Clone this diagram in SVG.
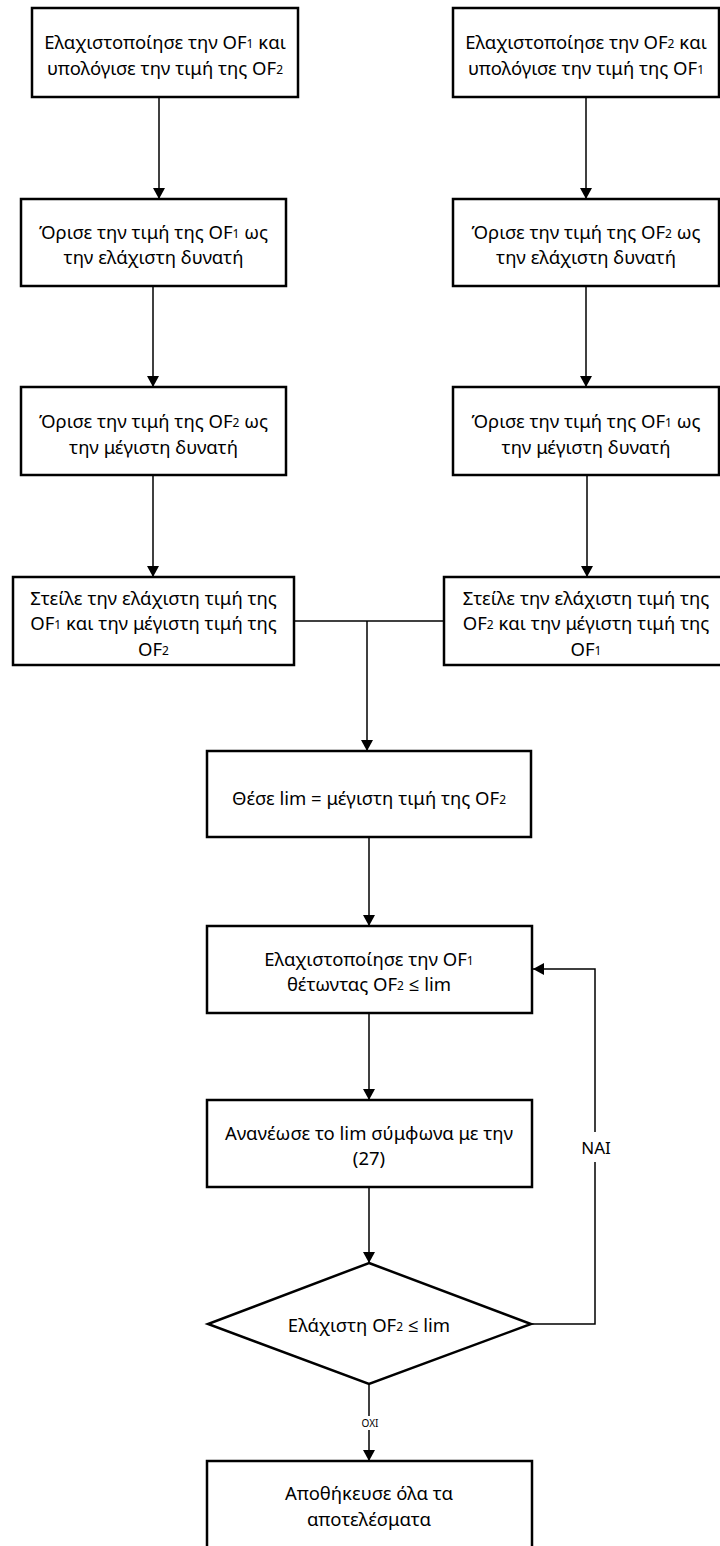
<svg xmlns="http://www.w3.org/2000/svg" width="720" height="1546" viewBox="0 0 720 1546">
<style>
.box{fill:#fff;stroke:#000;stroke-width:2.5}
.ln{fill:none;stroke:#000;stroke-width:1.5}
.t{font-family:"Noto Sans","Open Sans","DejaVu Sans",sans-serif;font-size:18.5px;fill:#000;text-anchor:middle;dominant-baseline:central}
.s{font-size:12px;baseline-shift:-2px}
.lab{font-family:"Noto Sans","Open Sans","DejaVu Sans",sans-serif;fill:#000;text-anchor:middle;dominant-baseline:central}
</style>
<defs>
<marker id="ah" markerUnits="userSpaceOnUse" markerWidth="12" markerHeight="12" refX="11" refY="6" orient="auto">
<path d="M0,0 L11,6 L0,12 z" fill="#000"/>
</marker>
</defs>
<rect width="720" height="1546" fill="#fff"/>
<g id="connectors">
<line class="ln" x1="159" y1="97" x2="159" y2="199" marker-end="url(#ah)"/>
<line class="ln" x1="153" y1="286" x2="153" y2="387" marker-end="url(#ah)"/>
<line class="ln" x1="153" y1="475" x2="153" y2="577" marker-end="url(#ah)"/>
<line class="ln" x1="586" y1="97" x2="586" y2="199" marker-end="url(#ah)"/>
<line class="ln" x1="586" y1="286" x2="586" y2="387" marker-end="url(#ah)"/>
<line class="ln" x1="587" y1="475" x2="587" y2="577" marker-end="url(#ah)"/>
<polyline class="ln" points="294,621 444,621"/>
<line class="ln" x1="367" y1="621" x2="367" y2="751" marker-end="url(#ah)"/>
<line class="ln" x1="369" y1="837" x2="369" y2="926" marker-end="url(#ah)"/>
<line class="ln" x1="369" y1="1013" x2="369" y2="1100" marker-end="url(#ah)"/>
<line class="ln" x1="369" y1="1187" x2="369" y2="1263" marker-end="url(#ah)"/>
<line class="ln" x1="369" y1="1384" x2="369" y2="1461" marker-end="url(#ah)"/>
<polyline class="ln" points="531,1324 595,1324 595,969 533,969" marker-end="url(#ah)"/>
<rect x="578" y="1132" width="36" height="30" fill="#fff"/>
<text class="lab" x="596" y="1147" font-size="17">NAI</text>
<rect x="357" y="1416" width="26" height="14" fill="#fff"/>
<text class="lab" x="370" y="1423" font-size="10">OXI</text>
</g>
<g id="n1">
<rect class="box" x="32" y="8" width="266" height="89"/>
<text class="t" x="165" y="41">Ελαχιστοποίησε την OF<tspan class="s">1</tspan> και</text>
<text class="t" x="165" y="67">υπολόγισε την τιμή της OF<tspan class="s">2</tspan></text>
</g>
<g id="n2">
<rect class="box" x="453" y="8" width="266" height="89"/>
<text class="t" x="586" y="41">Ελαχιστοποίησε την OF<tspan class="s">2</tspan> και</text>
<text class="t" x="586" y="67">υπολόγισε την τιμή της OF<tspan class="s">1</tspan></text>
</g>
<g id="n3">
<rect class="box" x="21" y="199" width="265" height="87"/>
<text class="t" x="153.5" y="231">Όρισε την τιμή της OF<tspan class="s">1</tspan> ως</text>
<text class="t" x="153.5" y="256">την ελάχιστη δυνατή</text>
</g>
<g id="n4">
<rect class="box" x="453" y="199" width="266" height="87"/>
<text class="t" x="586" y="231">Όρισε την τιμή της OF<tspan class="s">2</tspan> ως</text>
<text class="t" x="586" y="256">την ελάχιστη δυνατή</text>
</g>
<g id="n5">
<rect class="box" x="21" y="387" width="265" height="88"/>
<text class="t" x="153.5" y="420">Όρισε την τιμή της OF<tspan class="s">2</tspan> ως</text>
<text class="t" x="153.5" y="446">την μέγιστη δυνατή</text>
</g>
<g id="n6">
<rect class="box" x="453" y="387" width="266" height="88"/>
<text class="t" x="586" y="420">Όρισε την τιμή της OF<tspan class="s">1</tspan> ως</text>
<text class="t" x="586" y="446">την μέγιστη δυνατή</text>
</g>
<g id="n7">
<rect class="box" x="13" y="577" width="281" height="88"/>
<text class="t" x="153.5" y="597">Στείλε την ελάχιστη τιμή της</text>
<text class="t" x="153.5" y="622">OF<tspan class="s">1</tspan> και την μέγιστη τιμή της</text>
<text class="t" x="153.5" y="648">OF<tspan class="s">2</tspan></text>
</g>
<g id="n8">
<rect class="box" x="444" y="577" width="280" height="88"/>
<text class="t" x="586" y="597">Στείλε την ελάχιστη τιμή της</text>
<text class="t" x="586" y="622">OF<tspan class="s">2</tspan> και την μέγιστη τιμή της</text>
<text class="t" x="586" y="648">OF<tspan class="s">1</tspan></text>
</g>
<g id="n9">
<rect class="box" x="207" y="751" width="324" height="86"/>
<text class="t" x="369" y="797">Θέσε lim = μέγιστη τιμή της OF<tspan class="s">2</tspan></text>
</g>
<g id="n10">
<rect class="box" x="207" y="926" width="325" height="87"/>
<text class="t" x="369" y="958">Ελαχιστοποίησε την OF<tspan class="s">1</tspan></text>
<text class="t" x="369" y="983">θέτωντας OF<tspan class="s">2</tspan> ≤ lim</text>
</g>
<g id="n11">
<rect class="box" x="207" y="1100" width="325" height="87"/>
<text class="t" x="369" y="1132">Ανανέωσε το lim σύμφωνα με την</text>
<text class="t" x="369" y="1157">(27)</text>
</g>
<g id="n12">
<polygon class="box" points="369,1263 531,1324 369,1384 208,1324"/>
<text class="t" x="369" y="1324">Ελάχιστη OF<tspan class="s">2</tspan> ≤ lim</text>
</g>
<g id="n13">
<rect class="box" x="207" y="1461" width="325" height="100"/>
<text class="t" x="369" y="1492">Αποθήκευσε όλα τα</text>
<text class="t" x="369" y="1518">αποτελέσματα</text>
</g>
</svg>
